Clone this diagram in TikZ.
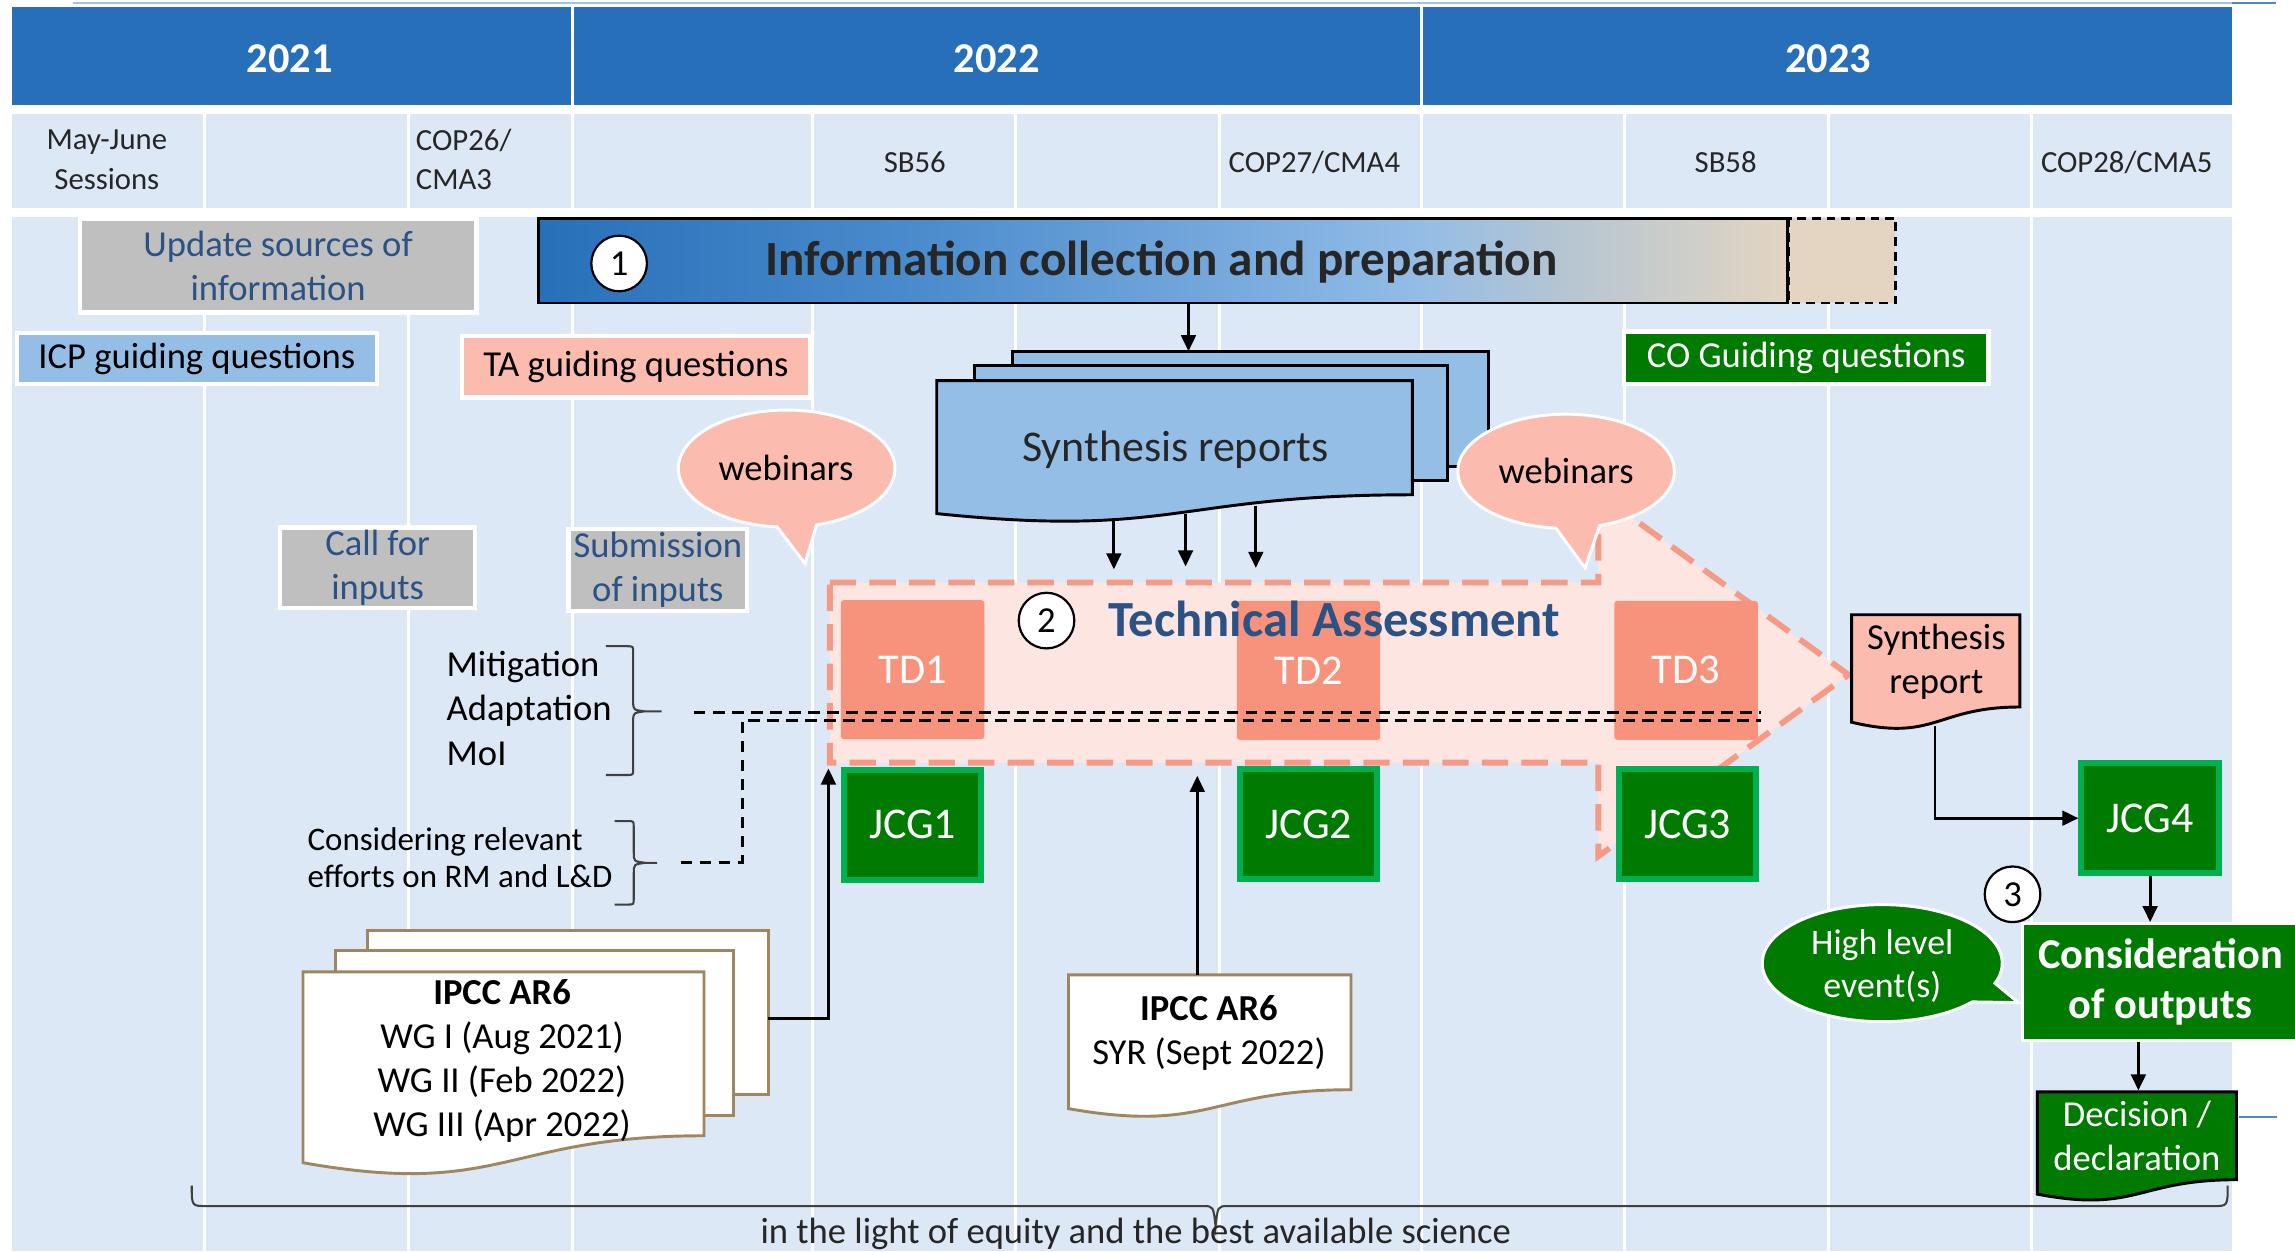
\documentclass[tikz,border=0pt]{standalone}
\usepackage{fontspec}
\setmainfont{Carlito}
\usetikzlibrary{arrows.meta,calc}
\definecolor{hdr}{HTML}{2770B9}
\definecolor{bgl}{HTML}{DCE8F6}
\definecolor{grayb}{HTML}{BFBFBF}
\definecolor{dblue}{HTML}{2A5285}
\definecolor{icpb}{HTML}{95BEE6}
\definecolor{salm}{HTML}{FBBCAF}
\definecolor{tdc}{HTML}{F7937D}
\definecolor{taf}{HTML}{FDE6E1}
\definecolor{tab}{HTML}{F69A86}
\definecolor{gfill}{HTML}{007A00}
\definecolor{gbord}{HTML}{00B050}
\definecolor{beigec}{HTML}{E3D5C1}
\definecolor{ibone}{HTML}{4A8BCC}
\definecolor{ibtwo}{HTML}{76A9DD}
\definecolor{ibthree}{HTML}{92BCE6}
\definecolor{ibfour}{HTML}{B5C5D2}
\definecolor{docbord}{HTML}{A08660}
\definecolor{topl}{HTML}{9DC3E6}
\definecolor{topd}{HTML}{4A86D6}
\definecolor{txtd}{HTML}{262626}
\pgfdeclarehorizontalshading{infoshade}{100bp}{color(0bp)=(hdr); color(25bp)=(hdr); color(40bp)=(ibone); color(52.5bp)=(ibtwo); color(60bp)=(ibthree); color(66bp)=(ibfour); color(75bp)=(beigec); color(100bp)=(beigec)}
\newcommand{\mydoc}[5]{%
 \pgfmathsetmacro{\mdxr}{#2+#4}\pgfmathsetmacro{\mdxm}{#2+#4/2}%
 \pgfmathsetmacro{\mdyr}{#3+0.802*#5}\pgfmathsetmacro{\mdyc}{#3+1.1075*#5}\pgfmathsetmacro{\mdyl}{#3+0.934*#5}%
 \path[#1] (#2,#3) -- (\mdxr,#3) -- (\mdxr,\mdyr) .. controls (\mdxm,\mdyr) and (\mdxm,\mdyc) .. (#2,\mdyl) -- cycle;}
% right brace: x-end, x-vertical, x-tail, y-top, y-mid, y-bottom
\newcommand{\myrbrace}[6]{%
 \pgfmathsetmacro{\mbh}{#2-4}\pgfmathsetmacro{\mbt}{#2+8}%
 \pgfmathsetmacro{\mbyt}{#4+4.5}\pgfmathsetmacro{\mbyb}{#6-4.5}%
 \pgfmathsetmacro{\mbma}{#5-7}\pgfmathsetmacro{\mbmb}{#5+7}%
 \pgfmathsetmacro{\mbmc}{#5-1}\pgfmathsetmacro{\mbmd}{#5+1}%
 \draw[brc] (#1,#4) -- (\mbh,#4) .. controls (#2,#4) .. (#2,\mbyt) -- (#2,\mbma) .. controls (#2,\mbmc) .. (\mbt,#5) -- (#3,#5)
   (\mbt,#5) .. controls (#2,\mbmd) .. (#2,\mbmb) -- (#2,\mbyb) .. controls (#2,#6) .. (\mbh,#6) -- (#1,#6);}
\begin{document}
\begin{tikzpicture}[x=1pt,y=-1pt,
  ftw/.style={font=\fontsize{25pt}{30pt}\selectfont},
  frow/.style={font=\fontsize{21pt}{27pt}\selectfont, text=txtd, align=center, inner sep=0pt},
  yr/.style={font=\bfseries\fontsize{29pt}{34pt}\selectfont, text=white, inner sep=0pt},
  graybox/.style={fill=grayb, draw=white, line width=3pt, text=dblue, ftw, align=center, inner sep=0pt},
  qbox/.style={draw=white, line width=3pt, ftw, align=center, inner sep=0pt},
  tdbox/.style={fill=tdc, rounded corners=2pt, text=white, font=\fontsize{29pt}{34pt}\selectfont, minimum width=98pt, minimum height=95pt, inner sep=0pt},
  jcg/.style={fill=gfill, draw=gbord, line width=4pt, text=white, font=\fontsize{30pt}{36pt}\selectfont, minimum width=94pt, minimum height=75pt, inner sep=0pt},
  num/.style={circle, draw=black, line width=1.5pt, fill=white, minimum size=38pt, inner sep=0pt, ftw},
  arr/.style={line width=2pt, -{Triangle[length=11pt,width=10pt]}},
  dline/.style={line width=2pt, dash pattern=on 8pt off 5pt},
  brc/.style={line width=1.4pt, draw=black!75}
]
\useasboundingbox (0,0) rectangle (1568,855);
\fill[white] (0,0) rectangle (1568,855);
% top thin line
\draw[topl, line width=1.5pt] (50,2) -- (1525,2);
\draw[topd, line width=1.5pt] (1525,2) -- (1555,2);
% header
\fill[hdr] (8,5) rectangle (390,72);
\fill[hdr] (392,5) rectangle (970,72);
\fill[hdr] (972,5) rectangle (1525,72);
\fill[bgl] (8,78) rectangle (1525,142);
\fill[bgl] (8,148) rectangle (1525,855);
\foreach \x in {140,279,391,555,694,833,971,1110,1249,1388} {
  \draw[white, line width=2pt] (\x,78) -- (\x,142);
  \draw[white, line width=2pt] (\x,148) -- (\x,855);
}
\node[yr] (y21) at (198,40) {2021};
\node[yr] (y22) at (681,40) {2022};
\node[yr] (y23) at (1249,40) {2023};
% row labels
\node[frow] (mj) at (73,109) {May-June\\Sessions};
\node[frow, anchor=west, align=left] (cop26) at (284,109) {COP26/\\CMA3};
\node[frow] (sb56) at (625,111) {SB56};
\node[frow] (cop27) at (898,111) {COP27/CMA4};
\node[frow] (sb58) at (1179,111) {SB58};
\node[frow] (cop28) at (1453,111) {COP28/CMA5};
% boxes
\node[graybox, minimum width=271pt, minimum height=64pt] (upd) at (190,181.5) {Update sources of\\information};
\node[qbox, fill=icpb, minimum width=246pt, minimum height=35pt] (icp) at (134.5,245) {ICP guiding questions};
\node[qbox, fill=salm, minimum width=238pt, minimum height=42pt] (tag) at (434.5,250.5) {TA guiding questions};
\node[qbox, fill=gfill, text=white, minimum width=249pt, minimum height=36pt] (cog) at (1234,244.5) {CO Guiding questions};
% information bar
\draw[fill=beigec, line width=2pt, dash pattern=on 6pt off 4pt] (1222,149) rectangle (1295,207);
\node[draw=black, line width=2pt, shading=infoshade, minimum width=853pt, minimum height=58pt, inner sep=0pt] (info) at (794.5,178) {};
\node[num] (n1) at (423,180) {1};
\node[font=\bfseries\fontsize{33.6pt}{40pt}\selectfont, text=txtd, inner sep=0pt] (infot) at (793.5,179) {Information collection and preparation};
% synthesis reports stack
\filldraw[fill=icpb, draw=black, line width=2pt] (692,240) rectangle (1017,319);
\filldraw[fill=icpb, draw=black, line width=2pt] (666,250) rectangle (989,328);
\mydoc{fill=icpb, draw=black, line width=2pt}{640}{260}{325}{97.3}
\node[font=\fontsize{30pt}{36pt}\selectfont, text=txtd, inner sep=0pt] (sr) at (803,307) {Synthesis reports};
\coordinate (srtop) at (812,240);
\draw[arr] (info.south -| srtop) -- (srtop);
% webinars 1
\path[fill=salm, draw=white, line width=2pt] (531,360) arc[start angle=95, end angle=434, x radius=74, y radius=40] -- (550,385) -- cycle;
\node[ftw, inner sep=0pt] (web1) at (537,320) {webinars};
% Technical assessment arrow
\path[fill=taf, draw=tab, line width=4pt, dash pattern=on 18pt off 9pt] (567,398) -- (1092,398) -- (1092,337) -- (1263,461) -- (1092,585) -- (1092,521) -- (567,521) -- cycle;
% webinars 2
\path[fill=salm, draw=white, line width=2pt] (1063,360.8) arc[start angle=95.4, end angle=431.9, x radius=74, y radius=39] -- (1083,388) -- cycle;
\node[ftw, inner sep=0pt] (web2) at (1070,322) {webinars};
% arrows from synthesis reports
\coordinate (s1) at (761,354); \coordinate (t1) at (761,389);
\coordinate (s2) at (810,351); \coordinate (t2) at (810,387);
\coordinate (s3) at (858,346); \coordinate (t3) at (858,388);
\draw[arr] (s1) -- (t1);
\draw[arr] (s2) -- (t2);
\draw[arr] (s3) -- (t3);
% TD boxes
\node[tdbox] (td1) at (623.5,457.5) {TD1};
\node[tdbox] (td2) at (894,458) {TD2};
\node[tdbox] (td3) at (1152,458) {TD3};
\node[num] (n2) at (715,424) {2};
\node[font=\bfseries\fontsize{34.6pt}{40pt}\selectfont, text=dblue, inner sep=0pt] (tat) at (911.5,423) {Technical Assessment};
% call / submission
\node[graybox, minimum width=133pt, minimum height=55pt] (call) at (258,388) {Call for\\inputs};
\node[graybox, minimum width=122pt, minimum height=56pt] (subm) at (449.5,389.5) {Submission\\of inputs};
% mitigation etc
\node[anchor=west, align=left, inner sep=0pt, font=\fontsize{25pt}{30.5pt}\selectfont] (mam) at (305,484) {Mitigation\\Adaptation\\MoI};
\myrbrace{414}{432.6}{452}{441.5}{486}{529.5}
\node[anchor=west, align=left, inner sep=0pt, font=\fontsize{22.5pt}{25pt}\selectfont] (cons) at (210,586) {Considering relevant\\efforts on RM and L\&D};
\myrbrace{420}{433}{449}{561}{589.5}{618}
% dashed lines
\coordinate (da1) at (474,486.5); \coordinate (da2) at (1203,486.5);
\coordinate (db1) at (465,589); \coordinate (db2) at (507,492); \coordinate (db3) at (1203,492);
\draw[dline] (da1) -- (da2);
\draw[dline] (db1) -| (db2) -- (db3);
% JCG boxes
\node[jcg] (jcg1) at (623.5,563.5) {JCG1};
\node[jcg] (jcg2) at (894,563) {JCG2};
\node[jcg] (jcg3) at (1153,563) {JCG3};
\node[jcg] (jcg4) at (1469,559) {JCG4};
% IPCC stack
\filldraw[fill=white, draw=docbord, line width=2pt] (251,636) rectangle (525,748);
\filldraw[fill=white, draw=docbord, line width=2pt] (229,649.5) rectangle (501,762);
\mydoc{fill=white, draw=docbord, line width=2pt}{207}{664}{274}{139.6}
\node[ftw, align=center, inner sep=0pt] (ipcc) at (343,725) {\textbf{IPCC AR6}\\WG I (Aug 2021)\\WG II (Feb 2022)\\WG III (Apr 2022)};
\coordinate (ipccout) at (525,696); \coordinate (tain1) at (566,525);
\draw[arr] (ipccout) -| (tain1);
% SYR
\mydoc{fill=white, draw=docbord, line width=2pt}{730}{666}{193}{97.9}
\node[ftw, align=center, inner sep=0pt] (syr) at (826,706) {\textbf{IPCC AR6}\\SYR (Sept 2022)};
\coordinate (syrtop) at (818,666); \coordinate (tain2) at (818,530);
\draw[arr] (syrtop) -- (tain2);
% synthesis report
\mydoc{fill=salm, draw=black, line width=2pt}{1265}{420}{115}{78.6}
\node[ftw, align=center, inner sep=0pt] (srep) at (1323,452) {Synthesis\\report};
\coordinate (srepout) at (1322,496);
\draw[arr] (srepout) |- (jcg4.west);
% consideration
\node[fill=gfill, draw=white, line width=2pt, minimum width=188pt, minimum height=80pt, inner sep=0pt, text=white, align=center, font=\bfseries\fontsize{29pt}{34pt}\selectfont] (consid) at (1476,671) {Consideration\\of outputs};
\draw[arr] (jcg4.south) -- (jcg4.south |- consid.north);
\node[num] (n3) at (1375,611) {3};
% high level event
\path[fill=gfill, draw=white, line width=2pt] (1347.5,684.5) arc[start angle=41.4, end angle=380.1, x radius=82, y radius=40] -- (1379,685) -- cycle;
\node[font=\fontsize{24.5pt}{30pt}\selectfont, text=white, align=center, inner sep=0pt] (hle) at (1286,660) {High level\\event(s)};
% decision
\mydoc{fill=gfill, draw=black, line width=2pt}{1392}{746}{136}{74.8}
\node[ftw, text=white, align=center, inner sep=0pt] (dec) at (1460,776) {Decision /\\declaration};
\coordinate (decin) at (1461,745);
\draw[arr] (consid.south -| decin) -- (decin);
\draw[topd, line width=1.5pt] (1530,763) -- (1556,763);
% bottom brace
\draw[brc] (131,810) .. controls (131,824) .. (141,824) -- (822,824) .. controls (829,824) .. (830.5,838)
  .. controls (832,824) .. (839,824) -- (1512,824) .. controls (1522,824) .. (1522,810);
\node[ftw, inner sep=0pt, text=txtd] (light) at (776,843) {in the light of equity and the best available science};
\end{tikzpicture}
\end{document}
